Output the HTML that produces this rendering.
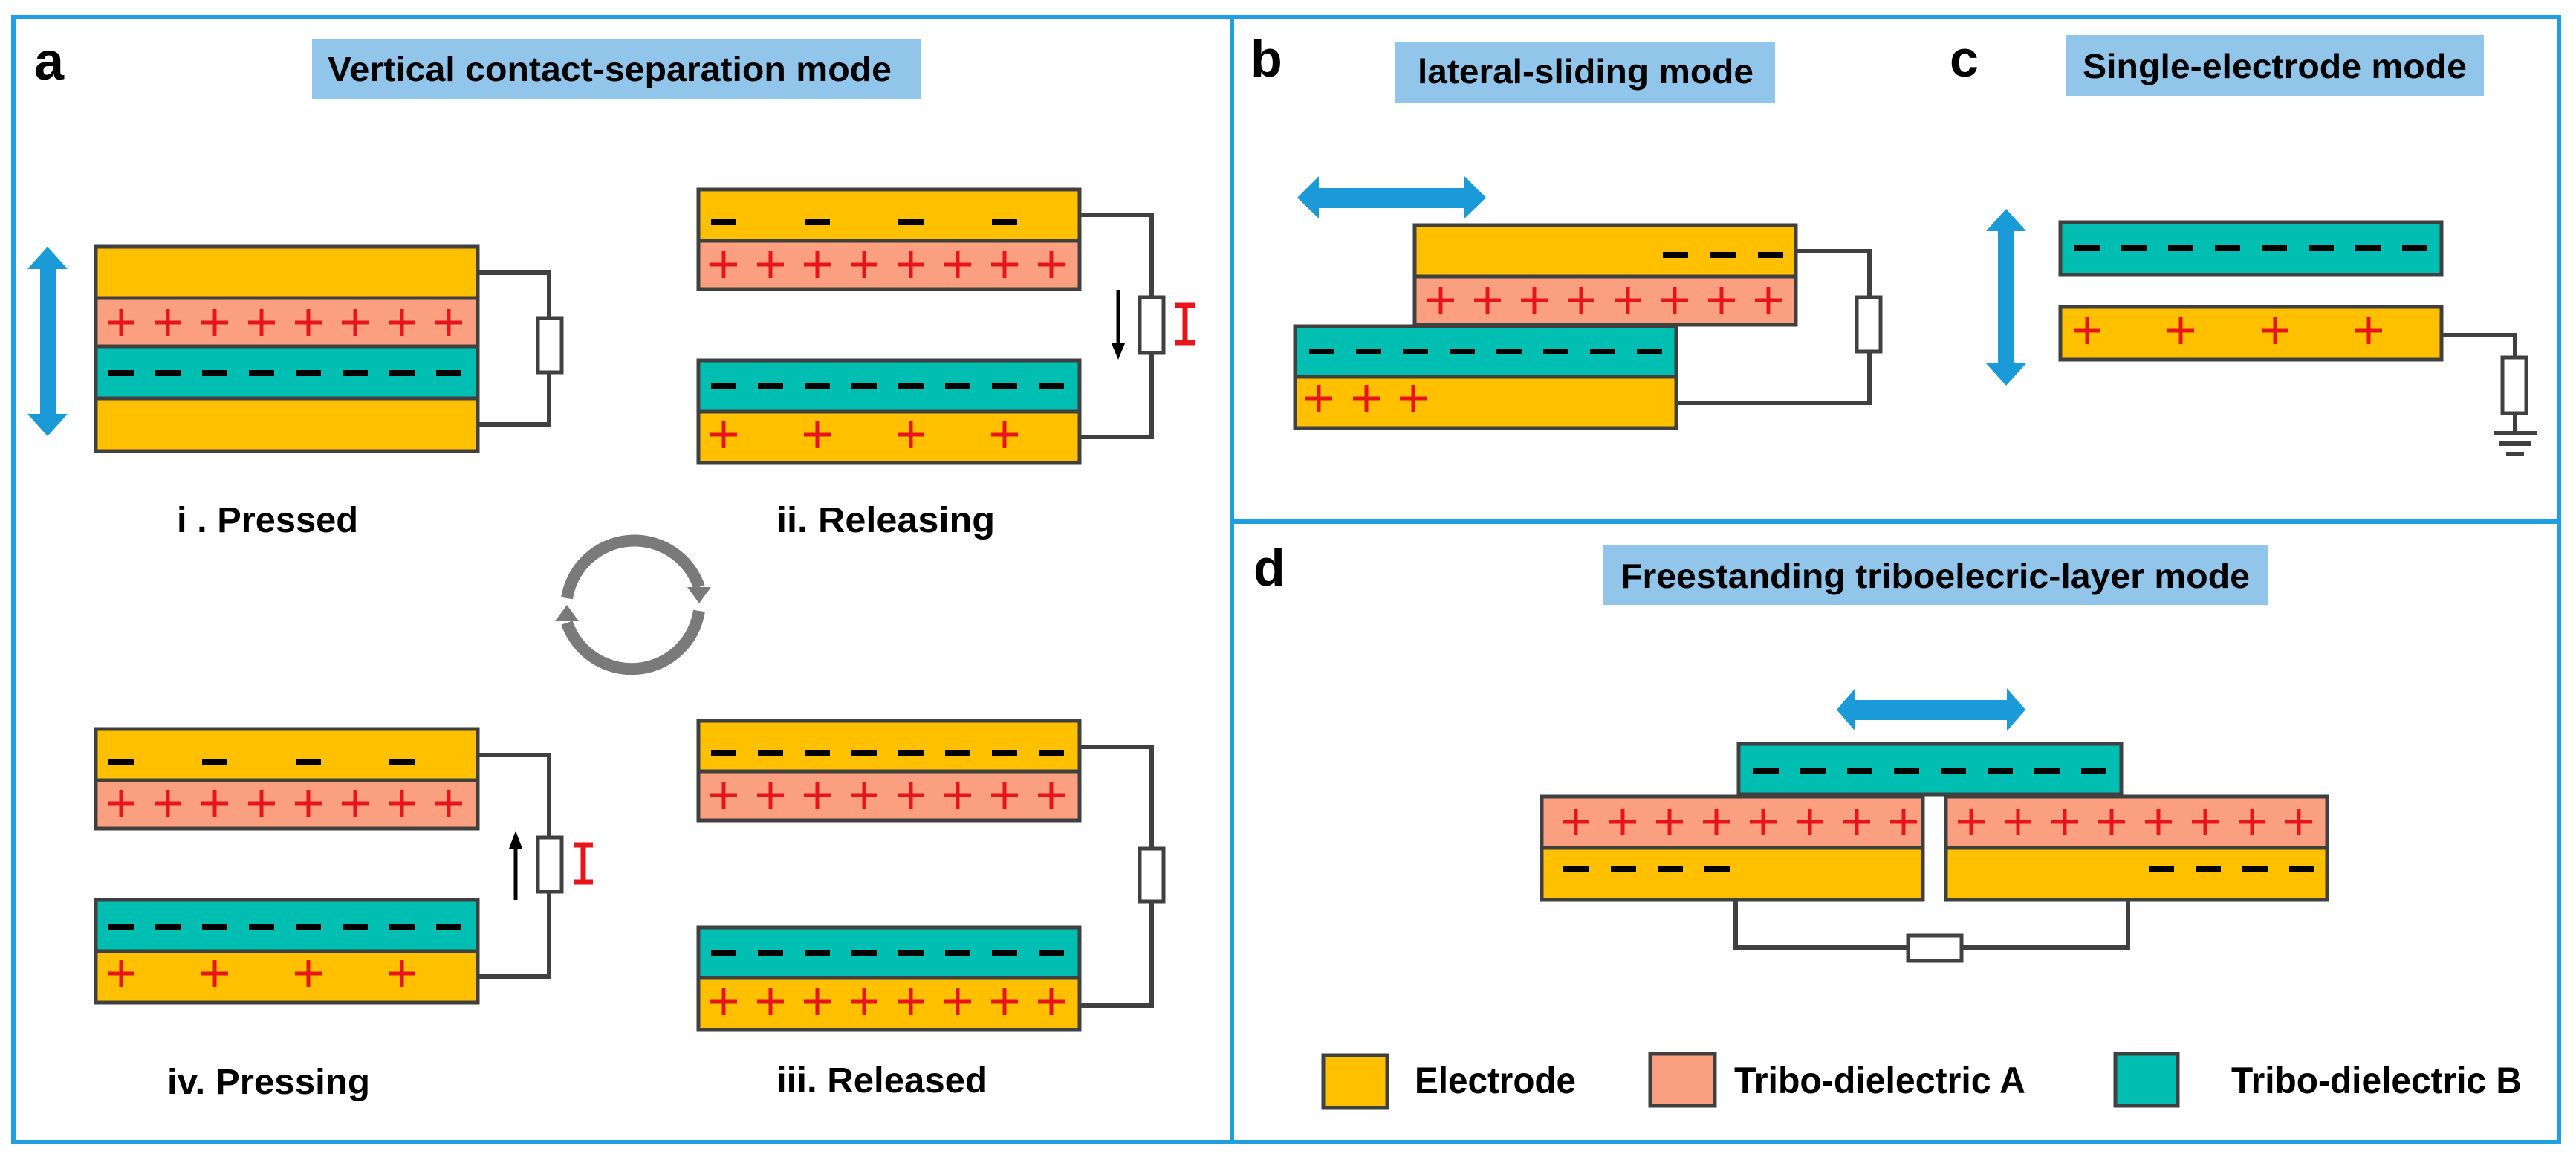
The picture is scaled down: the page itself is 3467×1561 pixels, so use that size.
<!DOCTYPE html>
<html><head><meta charset="utf-8"><style>html,body{margin:0;padding:0;background:#fff}svg{display:block}</style></head>
<body>
<svg xmlns="http://www.w3.org/2000/svg" xmlns:xlink="http://www.w3.org/1999/xlink" width="3467" height="1561" viewBox="0 0 3467 1561" font-family="Liberation Sans, Arial, sans-serif" font-weight="bold">
<defs>
<g id="p"><path d="M-18 0H18M0 -18V18" stroke="#e8141c" stroke-width="5" fill="none"/></g>
<rect id="m" x="-17" y="-4" width="34" height="8" fill="#000"/>
</defs>
<rect x="0" y="0" width="3467" height="1561" fill="#fff"/>
<!-- frames -->
<g fill="none" stroke="#1f9fe0" stroke-width="6">
<rect x="18" y="23" width="3426" height="1514"/>
<line x1="1658" y1="23" x2="1658" y2="1537"/>
<line x1="1658" y1="702" x2="3444" y2="702"/>
</g>
<!-- titles -->
<g fill="#92c5ea">
<rect x="420" y="52" width="820" height="81"/>
<rect x="1877" y="56" width="512" height="82"/>
<rect x="2780" y="47" width="563" height="82"/>
<rect x="2158" y="733" width="894" height="81"/>
</g>
<g fill="#000">
<text x="441" y="109" font-size="46" textLength="759" lengthAdjust="spacingAndGlyphs">Vertical contact-separation mode</text>
<text x="1908" y="112" font-size="46" textLength="452" lengthAdjust="spacingAndGlyphs">lateral-sliding mode</text>
<text x="2803" y="105" font-size="46" textLength="517" lengthAdjust="spacingAndGlyphs">Single-electrode mode</text>
<text x="2181" y="791" font-size="46" textLength="847" lengthAdjust="spacingAndGlyphs">Freestanding triboelecric-layer mode</text>
<text x="46" y="107" font-size="72">a</text>
<text x="1683" y="103" font-size="70">b</text>
<text x="2624" y="103" font-size="70">c</text>
<text x="1687" y="788" font-size="70">d</text>
<text x="238" y="716" font-size="48" textLength="244" lengthAdjust="spacingAndGlyphs">i . Pressed</text>
<text x="1045" y="716" font-size="48" textLength="294" lengthAdjust="spacingAndGlyphs">ii. Releasing</text>
<text x="225" y="1472" font-size="48" textLength="273" lengthAdjust="spacingAndGlyphs">iv. Pressing</text>
<text x="1045" y="1470" font-size="48" textLength="284" lengthAdjust="spacingAndGlyphs">iii. Released</text>
<text x="1904" y="1471" font-size="50" textLength="217" lengthAdjust="spacingAndGlyphs">Electrode</text>
<text x="2334" y="1471" font-size="50" textLength="392" lengthAdjust="spacingAndGlyphs">Tribo-dielectric A</text>
<text x="3003" y="1471" font-size="50" textLength="391" lengthAdjust="spacingAndGlyphs">Tribo-dielectric B</text>
</g>
<!-- blue arrows -->
<g fill="#1a9bd7">
<polygon points="64,332 91,362 75,362 75,557 91,557 64,587 37,557 54,557 54,362 37,362"/>
<polygon points="1746,266 1775,237 1775,253 1971,253 1971,237 2000,266 1971,294 1971,280 1775,280 1775,294"/>
<polygon points="2700,281 2727,311 2711,311 2711,489 2727,489 2700,519 2673,489 2689,489 2689,311 2673,311"/>
<polygon points="2472,955 2497,926 2497,942 2701,942 2701,926 2726,955 2701,984 2701,969 2497,969 2497,984"/>
</g>
<!-- cycle arrows -->
<g fill="none" stroke="#7a7a7a" stroke-width="16">
<path d="M763 805 A92 92 0 0 1 941 790"/>
<path d="M941 822 A92 92 0 0 1 763 838"/>
</g>
<g fill="#7a7a7a">
<polygon points="925,790 957,790 941,812"/>
<polygon points="747,836 779,836 763,814"/>
</g>
<!-- layers -->
<g stroke="#404040" stroke-width="5">
<!-- i -->
<rect x="129" y="332" width="514" height="69" fill="#ffc000"/>
<rect x="129" y="401" width="514" height="65" fill="#fa9f80"/>
<rect x="129" y="466" width="514" height="70" fill="#00bfb2"/>
<rect x="129" y="536" width="514" height="71" fill="#ffc000"/>
<!-- ii -->
<rect x="940" y="255" width="513" height="69" fill="#ffc000"/>
<rect x="940" y="324" width="513" height="65" fill="#fa9f80"/>
<rect x="940" y="485" width="513" height="69" fill="#00bfb2"/>
<rect x="940" y="554" width="513" height="69" fill="#ffc000"/>
<!-- iv -->
<rect x="129" y="981" width="514" height="69" fill="#ffc000"/>
<rect x="129" y="1050" width="514" height="65" fill="#fa9f80"/>
<rect x="129" y="1211" width="514" height="69" fill="#00bfb2"/>
<rect x="129" y="1280" width="514" height="69" fill="#ffc000"/>
<!-- iii -->
<rect x="940" y="970" width="513" height="68" fill="#ffc000"/>
<rect x="940" y="1038" width="513" height="66" fill="#fa9f80"/>
<rect x="940" y="1248" width="513" height="68" fill="#00bfb2"/>
<rect x="940" y="1316" width="513" height="70" fill="#ffc000"/>
<!-- b -->
<rect x="1904" y="303" width="513" height="69" fill="#ffc000"/>
<rect x="1904" y="372" width="513" height="65" fill="#fa9f80"/>
<rect x="1743" y="439" width="513" height="68" fill="#00bfb2"/>
<rect x="1743" y="507" width="513" height="69" fill="#ffc000"/>
<!-- c -->
<rect x="2773" y="299" width="513" height="71" fill="#00bfb2"/>
<rect x="2773" y="413" width="513" height="71" fill="#ffc000"/>
<!-- d -->
<rect x="2340" y="1001" width="515" height="68" fill="#00bfb2"/>
<rect x="2075" y="1072" width="513" height="69" fill="#fa9f80"/>
<rect x="2075" y="1141" width="513" height="70" fill="#ffc000"/>
<rect x="2619" y="1072" width="513" height="69" fill="#fa9f80"/>
<rect x="2619" y="1141" width="513" height="70" fill="#ffc000"/>
<!-- legend -->
<rect x="1781" y="1420" width="86" height="71" fill="#ffc000"/>
<rect x="2221" y="1418" width="87" height="70" fill="#fa9f80"/>
<rect x="2847" y="1418" width="84" height="70" fill="#00bfb2"/>
</g>
<!-- wires -->
<g fill="none" stroke="#404040" stroke-width="6">
<polyline points="643,367 739,367 739,571 643,571"/>
<polyline points="1453,289 1550,289 1550,588 1453,588"/>
<polyline points="643,1016 739,1016 739,1314 643,1314"/>
<polyline points="1453,1005 1550,1005 1550,1353 1453,1353"/>
<polyline points="2417,338 2516,338 2516,542 2256,542"/>
<polyline points="3286,451 3385,451 3385,583"/>
<polyline points="2336,1211 2336,1275 2864,1275 2864,1211"/>
<line x1="3356" y1="583" x2="3414" y2="583"/>
<line x1="3364" y1="597" x2="3406" y2="597"/>
<line x1="3373" y1="611" x2="3397" y2="611"/>
</g>
<g fill="#fff" stroke="#404040" stroke-width="5">
<rect x="724" y="428" width="32" height="73"/>
<rect x="1534" y="400" width="32" height="75"/>
<rect x="724" y="1127" width="32" height="73"/>
<rect x="1534" y="1142" width="32" height="71"/>
<rect x="2499" y="400" width="32" height="73"/>
<rect x="3368" y="481" width="32" height="75"/>
<rect x="2568" y="1259" width="72" height="34"/>
</g>
<!-- current arrows -->
<g stroke="#000" stroke-width="5">
<line x1="1505" y1="390" x2="1505" y2="466"/>
<line x1="694" y1="1138" x2="694" y2="1211"/>
</g>
<polygon points="1496,462 1514,462 1505,484" fill="#000"/>
<polygon points="685,1142 703,1142 694,1118" fill="#000"/>
<g stroke="#e8141c" stroke-width="7" fill="none">
<path d="M1582 411H1608M1595 411V461M1582 461H1608"/>
<path d="M772 1137H798M785 1137V1187M772 1187H798"/>
</g>
<!-- charges -->
<g>
<!-- i -->
<use href="#p" x="163" y="434"/><use href="#p" x="226" y="434"/><use href="#p" x="289" y="434"/><use href="#p" x="352" y="434"/><use href="#p" x="415" y="434"/><use href="#p" x="478" y="434"/><use href="#p" x="541" y="434"/><use href="#p" x="604" y="434"/>
<use href="#m" x="163" y="502"/><use href="#m" x="226" y="502"/><use href="#m" x="289" y="502"/><use href="#m" x="352" y="502"/><use href="#m" x="415" y="502"/><use href="#m" x="478" y="502"/><use href="#m" x="541" y="502"/><use href="#m" x="604" y="502"/>
<!-- ii -->
<use href="#m" x="974" y="299"/><use href="#m" x="1100" y="299"/><use href="#m" x="1226" y="299"/><use href="#m" x="1352" y="299"/>
<use href="#p" x="974" y="356"/><use href="#p" x="1037" y="356"/><use href="#p" x="1100" y="356"/><use href="#p" x="1163" y="356"/><use href="#p" x="1226" y="356"/><use href="#p" x="1289" y="356"/><use href="#p" x="1352" y="356"/><use href="#p" x="1415" y="356"/>
<use href="#m" x="974" y="520"/><use href="#m" x="1037" y="520"/><use href="#m" x="1100" y="520"/><use href="#m" x="1163" y="520"/><use href="#m" x="1226" y="520"/><use href="#m" x="1289" y="520"/><use href="#m" x="1352" y="520"/><use href="#m" x="1415" y="520"/>
<use href="#p" x="974" y="585"/><use href="#p" x="1100" y="585"/><use href="#p" x="1226" y="585"/><use href="#p" x="1352" y="585"/>
<!-- iv -->
<use href="#m" x="163" y="1025"/><use href="#m" x="289" y="1025"/><use href="#m" x="415" y="1025"/><use href="#m" x="541" y="1025"/>
<use href="#p" x="163" y="1081"/><use href="#p" x="226" y="1081"/><use href="#p" x="289" y="1081"/><use href="#p" x="352" y="1081"/><use href="#p" x="415" y="1081"/><use href="#p" x="478" y="1081"/><use href="#p" x="541" y="1081"/><use href="#p" x="604" y="1081"/>
<use href="#m" x="163" y="1247"/><use href="#m" x="226" y="1247"/><use href="#m" x="289" y="1247"/><use href="#m" x="352" y="1247"/><use href="#m" x="415" y="1247"/><use href="#m" x="478" y="1247"/><use href="#m" x="541" y="1247"/><use href="#m" x="604" y="1247"/>
<use href="#p" x="163" y="1310"/><use href="#p" x="289" y="1310"/><use href="#p" x="415" y="1310"/><use href="#p" x="541" y="1310"/>
<!-- iii -->
<use href="#m" x="974" y="1013"/><use href="#m" x="1037" y="1013"/><use href="#m" x="1100" y="1013"/><use href="#m" x="1163" y="1013"/><use href="#m" x="1226" y="1013"/><use href="#m" x="1289" y="1013"/><use href="#m" x="1352" y="1013"/><use href="#m" x="1415" y="1013"/>
<use href="#p" x="974" y="1070"/><use href="#p" x="1037" y="1070"/><use href="#p" x="1100" y="1070"/><use href="#p" x="1163" y="1070"/><use href="#p" x="1226" y="1070"/><use href="#p" x="1289" y="1070"/><use href="#p" x="1352" y="1070"/><use href="#p" x="1415" y="1070"/>
<use href="#m" x="974" y="1282"/><use href="#m" x="1037" y="1282"/><use href="#m" x="1100" y="1282"/><use href="#m" x="1163" y="1282"/><use href="#m" x="1226" y="1282"/><use href="#m" x="1289" y="1282"/><use href="#m" x="1352" y="1282"/><use href="#m" x="1415" y="1282"/>
<use href="#p" x="974" y="1348"/><use href="#p" x="1037" y="1348"/><use href="#p" x="1100" y="1348"/><use href="#p" x="1163" y="1348"/><use href="#p" x="1226" y="1348"/><use href="#p" x="1289" y="1348"/><use href="#p" x="1352" y="1348"/><use href="#p" x="1415" y="1348"/>
<!-- b -->
<use href="#m" x="2255" y="343"/><use href="#m" x="2319" y="343"/><use href="#m" x="2383" y="343"/>
<use href="#p" x="1939" y="404"/><use href="#p" x="2002" y="404"/><use href="#p" x="2065" y="404"/><use href="#p" x="2128" y="404"/><use href="#p" x="2191" y="404"/><use href="#p" x="2254" y="404"/><use href="#p" x="2317" y="404"/><use href="#p" x="2380" y="404"/>
<use href="#m" x="1779" y="473"/><use href="#m" x="1842" y="473"/><use href="#m" x="1905" y="473"/><use href="#m" x="1968" y="473"/><use href="#m" x="2031" y="473"/><use href="#m" x="2094" y="473"/><use href="#m" x="2157" y="473"/><use href="#m" x="2220" y="473"/>
<use href="#p" x="1775" y="536"/><use href="#p" x="1839" y="536"/><use href="#p" x="1902" y="536"/>
<!-- c -->
<use href="#m" x="2809" y="334"/><use href="#m" x="2872" y="334"/><use href="#m" x="2935" y="334"/><use href="#m" x="2998" y="334"/><use href="#m" x="3061" y="334"/><use href="#m" x="3124" y="334"/><use href="#m" x="3187" y="334"/><use href="#m" x="3250" y="334"/>
<use href="#p" x="2809" y="445"/><use href="#p" x="2935" y="445"/><use href="#p" x="3062" y="445"/><use href="#p" x="3188" y="445"/>
<!-- d -->
<use href="#m" x="2377" y="1037"/><use href="#m" x="2440" y="1037"/><use href="#m" x="2503" y="1037"/><use href="#m" x="2566" y="1037"/><use href="#m" x="2629" y="1037"/><use href="#m" x="2692" y="1037"/><use href="#m" x="2755" y="1037"/><use href="#m" x="2818" y="1037"/>
<use href="#p" x="2121" y="1106"/><use href="#p" x="2184" y="1106"/><use href="#p" x="2247" y="1106"/><use href="#p" x="2310" y="1106"/><use href="#p" x="2373" y="1106"/><use href="#p" x="2436" y="1106"/><use href="#p" x="2499" y="1106"/><use href="#p" x="2562" y="1106"/>
<use href="#p" x="2653" y="1106"/><use href="#p" x="2716" y="1106"/><use href="#p" x="2779" y="1106"/><use href="#p" x="2842" y="1106"/><use href="#p" x="2905" y="1106"/><use href="#p" x="2968" y="1106"/><use href="#p" x="3031" y="1106"/><use href="#p" x="3094" y="1106"/>
<use href="#m" x="2121" y="1169"/><use href="#m" x="2185" y="1169"/><use href="#m" x="2248" y="1169"/><use href="#m" x="2311" y="1169"/>
<use href="#m" x="2909" y="1169"/><use href="#m" x="2972" y="1169"/><use href="#m" x="3035" y="1169"/><use href="#m" x="3098" y="1169"/>
</g>
</svg>
</body></html>
